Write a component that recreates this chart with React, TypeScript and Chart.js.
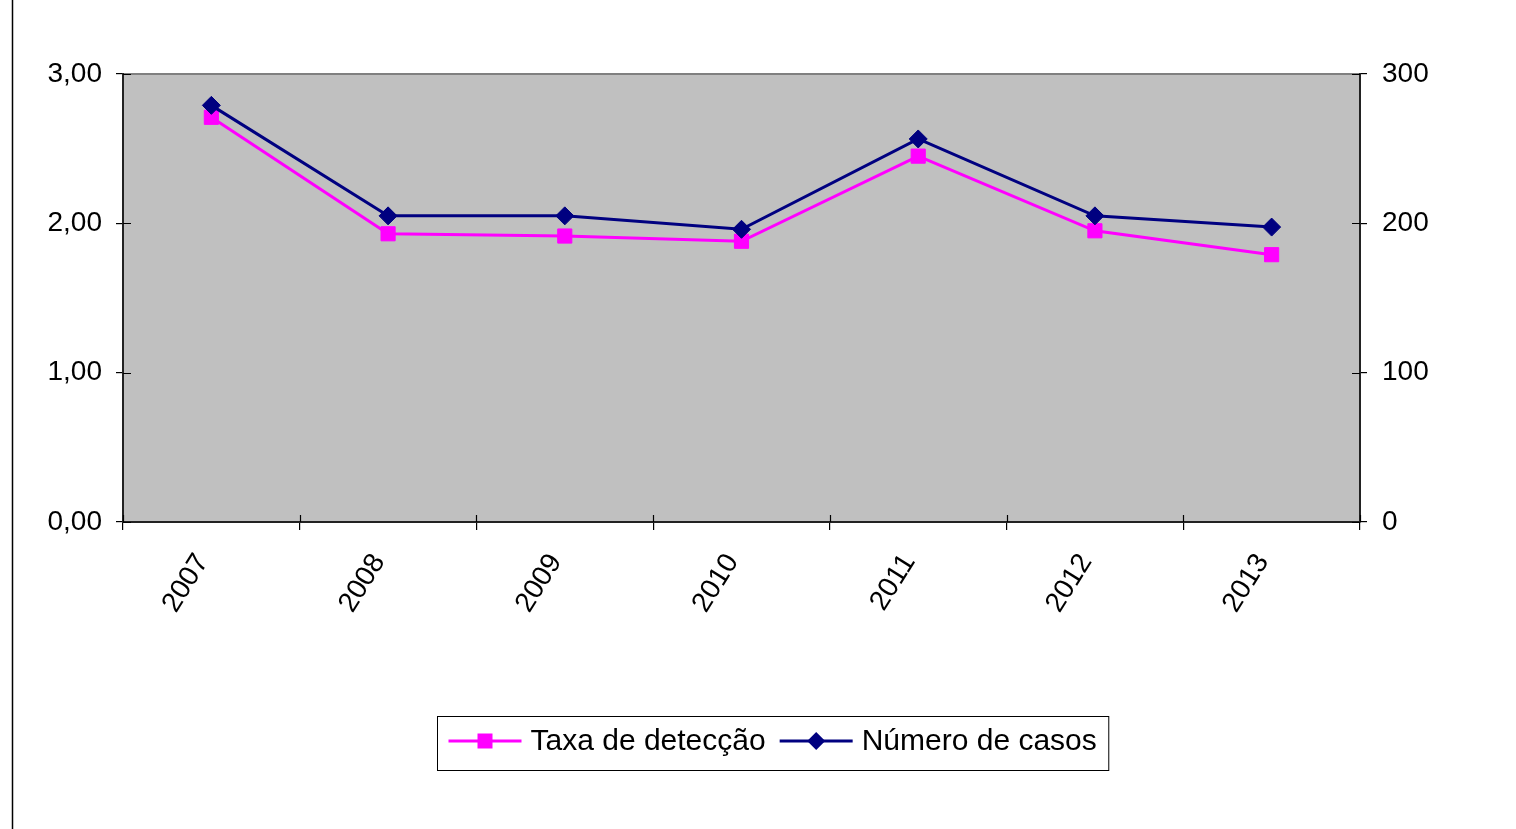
import React, { useEffect, useRef } from 'react';
import { Chart, registerables } from 'chart.js';

Chart.register(...registerables);

const years = ['2007', '2008', '2009', '2010', '2011', '2012', '2013'];
const taxaDeteccao = [2.71, 1.93, 1.915, 1.88, 2.45, 1.95, 1.79];
const numeroCasos = [279, 205, 205, 196, 256.5, 205, 197.5];
const leftTickValues = [0, 1, 2, 3];
const rightTickValues = [0, 100, 200, 300];
const seriesLabels = ['Taxa de detecção', 'Número de casos'];
const seriesColors = ['#FF00FF', '#000080'];
const seriesMarkers = ['rect', 'rectRot'];

const FONT = '"Liberation Sans", Arial, sans-serif';
const FONT_SIZE = 28;
const LEGEND_FONT_SIZE = 30;

const decorPlugin = {
  id: 'decor',
  beforeDraw(chart: any) {
    const { ctx, chartArea: a } = chart;
    ctx.save();
    ctx.fillStyle = '#C0C0C0';
    ctx.fillRect(a.left, a.top, a.right - a.left, a.bottom - a.top);
    ctx.strokeStyle = '#808080';
    ctx.lineWidth = 2;
    ctx.strokeRect(a.left, a.top, a.right - a.left, a.bottom - a.top);
    ctx.strokeStyle = '#000';
    ctx.lineWidth = 1.5;
    ctx.beginPath();
    ctx.moveTo(12.5, 0);
    ctx.lineTo(12.5, chart.height);
    ctx.stroke();
    ctx.restore();
  },
  afterDraw(chart: any) {
    const { ctx, chartArea: a } = chart;
    const xs = chart.scales.x;
    const yl = chart.scales.y;
    const yr = chart.scales.y2;
    ctx.save();
    ctx.strokeStyle = '#000';
    ctx.lineWidth = 1.2;
    ctx.beginPath();
    leftTickValues.forEach((v) => {
      const y = Math.round(yl.getPixelForValue(v)) + 0.5;
      ctx.moveTo(a.left, y);
      ctx.lineTo(a.left + 8, y);
    });
    rightTickValues.forEach((v) => {
      const y = Math.round(yr.getPixelForValue(v)) + 0.5;
      ctx.moveTo(a.right - 8, y);
      ctx.lineTo(a.right, y);
    });
    for (let i = 0; i <= years.length; i++) {
      const x = Math.round(xs.getPixelForValue(i - 0.5)) + 0.5;
      ctx.moveTo(x, a.bottom - 7);
      ctx.lineTo(x, a.bottom);
    }
    ctx.stroke();

    // Legend
    ctx.font = `${LEGEND_FONT_SIZE}px ${FONT}`;
    const lineLen = 73;
    const padL = 11;
    const gapText = 9;
    const gapItem = 14;
    const padR = 12;
    const w0 = ctx.measureText(seriesLabels[0]).width;
    const w1 = ctx.measureText(seriesLabels[1]).width;
    const total = padL + lineLen + gapText + w0 + gapItem + lineLen + gapText + w1 + padR;
    const cx = 773;
    const bx = Math.round(cx - total / 2) + 0.5;
    const by = 716.5;
    const bh = 54;
    ctx.fillStyle = '#fff';
    ctx.fillRect(bx, by, total, bh);
    ctx.strokeStyle = '#000';
    ctx.lineWidth = 1;
    ctx.strokeRect(bx, by, total, bh);
    const my = 741;
    let x = bx + padL;
    const widths = [w0, w1];
    for (let i = 0; i < 2; i++) {
      ctx.strokeStyle = seriesColors[i];
      ctx.lineWidth = 3;
      ctx.beginPath();
      ctx.moveTo(x, my);
      ctx.lineTo(x + lineLen, my);
      ctx.stroke();
      ctx.fillStyle = seriesColors[i];
      const mx = x + lineLen / 2;
      ctx.beginPath();
      if (seriesMarkers[i] === 'rect') {
        ctx.rect(mx - 7.5, my - 7.5, 15, 15);
      } else {
        ctx.moveTo(mx - 9, my);
        ctx.lineTo(mx, my - 9);
        ctx.lineTo(mx + 9, my);
        ctx.lineTo(mx, my + 9);
        ctx.closePath();
      }
      ctx.fill();
      x += lineLen + gapText;
      ctx.fillStyle = '#000';
      ctx.textBaseline = 'middle';
      ctx.textAlign = 'left';
      ctx.fillText(seriesLabels[i], x, my + 1);
      x += widths[i] + gapItem;
    }
    ctx.restore();
  },
};

export default function App() {
  const canvasRef = useRef<HTMLCanvasElement | null>(null);

  useEffect(() => {
    document.body.style.margin = '0';
    const canvas = canvasRef.current;
    if (!canvas) return;
    const tickFont = { family: FONT, size: FONT_SIZE };
    const chart = new Chart(canvas, {
      type: 'line',
      data: {
        labels: years,
        datasets: [
          {
            label: seriesLabels[0],
            data: taxaDeteccao,
            yAxisID: 'y',
            borderColor: seriesColors[0],
            backgroundColor: seriesColors[0],
            borderWidth: 3,
            pointStyle: seriesMarkers[0] as any,
            pointRadius: 10,
            pointBorderWidth: 1,
            tension: 0,
            order: 1,
          },
          {
            label: seriesLabels[1],
            data: numeroCasos,
            yAxisID: 'y2',
            borderColor: seriesColors[1],
            backgroundColor: seriesColors[1],
            borderWidth: 3,
            pointStyle: seriesMarkers[1] as any,
            pointRadius: 9,
            pointBorderWidth: 1,
            tension: 0,
            order: 0,
          },
        ],
      },
      options: {
        responsive: false,
        animation: false,
        layout: { padding: { top: 74, left: 0, right: 0, bottom: 0 } },
        plugins: {
          legend: { display: false },
          tooltip: { enabled: false },
        },
        scales: {
          x: {
            type: 'category',
            offset: true,
            grid: {
              offset: true,
              drawOnChartArea: false,
              drawTicks: true,
              tickLength: 8,
              tickColor: '#000',
              lineWidth: 1.2,
            },
            border: { color: '#222', width: 2 },
            ticks: {
              color: '#000',
              font: tickFont,
              minRotation: 58,
              maxRotation: 58,
              autoSkip: false,
              padding: 18,
              labelOffset: -9,
            },
            afterFit: (scale: any) => {
              scale.height = 829 - 74 - 448;
            },
          },
          y: {
            position: 'left',
            min: 0,
            max: 3,
            afterBuildTicks: (scale: any) => {
              scale.ticks = leftTickValues.map((v) => ({ value: v }));
            },
            grid: {
              drawOnChartArea: false,
              drawTicks: true,
              tickLength: 7,
              tickColor: '#000',
              lineWidth: 1.2,
            },
            border: { color: '#222', width: 2 },
            ticks: {
              color: '#000',
              font: tickFont,
              padding: 14,
              callback: (v: any) => Number(v).toFixed(2).replace('.', ','),
            },
            afterFit: (scale: any) => {
              scale.width = 123;
            },
          },
          y2: {
            position: 'right',
            min: 0,
            max: 300,
            afterBuildTicks: (scale: any) => {
              scale.ticks = rightTickValues.map((v) => ({ value: v }));
            },
            grid: {
              drawOnChartArea: false,
              drawTicks: true,
              tickLength: 7,
              tickColor: '#000',
              lineWidth: 1.2,
            },
            border: { color: '#222', width: 2 },
            ticks: {
              color: '#000',
              font: tickFont,
              padding: 15,
              callback: (v: any) => String(v),
            },
            afterFit: (scale: any) => {
              scale.width = 1516 - 1360;
            },
          },
        },
      },
      plugins: [decorPlugin],
    } as any);
    return () => chart.destroy();
  }, []);

  return (
    <div style={{ width: 1516, height: 829, background: '#fff' }}>
      <canvas ref={canvasRef} width={1516} height={829} style={{ display: 'block' }} />
    </div>
  );
}
